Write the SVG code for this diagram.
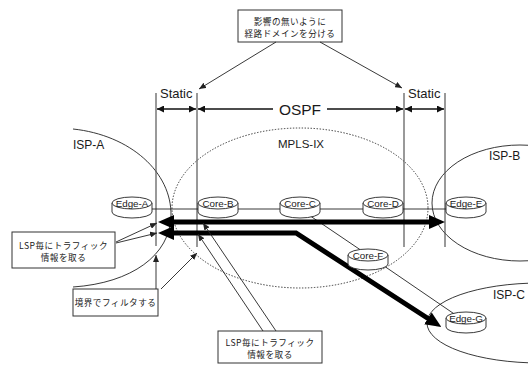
<svg xmlns="http://www.w3.org/2000/svg" xmlns:xlink="http://www.w3.org/1999/xlink" width="528" height="365" viewBox="0 0 528 365">
  <style>
    .lbl { font-family: "Liberation Sans", Arial, sans-serif; fill: #1a1a1a; }
    .jp { font-family: "Noto Sans CJK JP", sans-serif; font-size: 8.6px; letter-spacing: 0.5px; fill: #1a1a1a; text-anchor: middle; }
    .node-text { font-family: "Liberation Sans", Arial, sans-serif; font-size: 9.8px; fill: #1a1a1a; text-anchor: middle; }
    .box { fill: #fff; stroke: #333; stroke-width: 1; }
    .thin { fill: none; stroke: #222; stroke-width: 0.9; }
    .bound { fill: none; stroke: #555; stroke-width: 1.2; }
    .span { fill: none; stroke: #111; stroke-width: 1.6; }
    .thick { fill: none; stroke: #000; stroke-width: 5; }
    .cyl { fill: #fff; stroke: #222; stroke-width: 0.9; }
    .region { fill: none; stroke: #222; stroke-width: 0.9; }
  </style>
  <defs>
    <marker id="arrSm" markerUnits="userSpaceOnUse" markerWidth="8" markerHeight="6" refX="7" refY="3" orient="auto">
      <path d="M0,0 L7,3 L0,6 z" fill="#222"/>
    </marker>
    <marker id="arrSpan" markerUnits="userSpaceOnUse" markerWidth="8" markerHeight="7" refX="7" refY="3.5" orient="auto-start-reverse">
      <path d="M0,0 L7,3.5 L0,7 z" fill="#111"/>
    </marker>
    <marker id="arrBig" markerUnits="userSpaceOnUse" markerWidth="16" markerHeight="14" refX="2" refY="7" orient="auto-start-reverse">
      <path d="M0,0 L16,7 L0,14 z" fill="#000"/>
    </marker>
    <!-- router drum: white body with a top face -->
    <g id="cylinder">
      <path class="cyl" d="M-20,0 V9 A20,6 0 0 0 20,9 V0 Z"/>
      <ellipse class="cyl" cx="0" cy="0" rx="20" ry="6"/>
    </g>
  </defs>

  <!-- administrative regions -->
  <g id="regions">
    <path class="region" d="M73,129 C130,135 172,172 171,216 C170,255 132,283 73,287"/>
    <ellipse class="region" cx="300" cy="208" rx="128" ry="80" stroke-dasharray="1.4 1.6"/>
    <ellipse class="region" cx="520" cy="203" rx="88" ry="58"/>
    <ellipse class="region" cx="540" cy="323" rx="113" ry="40"/>
    <text class="lbl" x="73" y="149" font-size="12">ISP-A</text>
    <text class="lbl" x="278" y="148" font-size="11.5">MPLS-IX</text>
    <text class="lbl" x="489" y="160" font-size="12">ISP-B</text>
    <text class="lbl" x="493" y="299" font-size="12">ISP-C</text>
  </g>

  <!-- routing domain boundaries -->
  <g id="boundaries">
    <line class="bound" x1="156" y1="93" x2="156" y2="246"/>
    <line class="bound" x1="197" y1="93" x2="197" y2="247"/>
    <line class="bound" x1="404" y1="93" x2="404" y2="247"/>
    <line class="bound" x1="445" y1="93" x2="445" y2="247"/>
    <text class="lbl" x="160" y="98" font-size="13">Static</text>
    <text class="lbl" x="408" y="98" font-size="13">Static</text>
    <text class="lbl" x="300" y="114.5" font-size="15.5" text-anchor="middle">OSPF</text>
    <line class="span" x1="157" y1="109" x2="196" y2="109" marker-start="url(#arrSpan)" marker-end="url(#arrSpan)"/>
    <line class="span" x1="198" y1="109" x2="273" y2="109" marker-start="url(#arrSpan)"/>
    <line class="span" x1="327" y1="109" x2="403" y2="109" marker-end="url(#arrSpan)"/>
    <line class="span" x1="405" y1="109" x2="444" y2="109" marker-start="url(#arrSpan)" marker-end="url(#arrSpan)"/>
  </g>

  <!-- links and LSPs -->
  <g id="connectors">
    <line class="thin" x1="132" y1="209" x2="466" y2="209"/>
    <line class="thin" x1="300" y1="209" x2="368" y2="255"/>
    <line class="thin" x1="368" y1="255" x2="466" y2="322"/>
    <path class="thick" d="M172,222 H431" marker-start="url(#arrBig)" marker-end="url(#arrBig)"/>
    <path class="thick" d="M172,233 H296 L429.6,319.5" marker-start="url(#arrBig)" marker-end="url(#arrBig)"/>
  </g>

  <g id="edge-a" transform="translate(132,203)">
    <use href="#cylinder"/>
    <text class="node-text" x="0" y="3.5">Edge-A</text>
  </g>
  <g id="core-b" transform="translate(218,203)">
    <use href="#cylinder"/>
    <text class="node-text" x="0" y="3.5">Core-B</text>
  </g>
  <g id="core-c" transform="translate(300,203)">
    <use href="#cylinder"/>
    <text class="node-text" x="0" y="3.5">Core-C</text>
  </g>
  <g id="core-d" transform="translate(383,203)">
    <use href="#cylinder"/>
    <text class="node-text" x="0" y="3.5">Core-D</text>
  </g>
  <g id="edge-e" transform="translate(466,203)">
    <use href="#cylinder"/>
    <text class="node-text" x="0" y="3.5">Edge-E</text>
  </g>
  <g id="core-f" transform="translate(368,255)">
    <use href="#cylinder"/>
    <text class="node-text" x="0" y="3.5">Core-F</text>
  </g>
  <g id="edge-g" transform="translate(466,318)">
    <use href="#cylinder"/>
    <text class="node-text" x="0" y="3.5">Edge-G</text>
  </g>

  <!-- notes -->
  <g id="note-domain">
    <rect class="box" x="238" y="10" width="104" height="32"/>
    <text class="jp" x="290" y="24.5">影響の無いように</text>
    <text class="jp" x="290" y="37">経路ドメインを分ける</text>
    <line class="thin" x1="276" y1="42" x2="199" y2="89" marker-end="url(#arrSm)"/>
    <line class="thin" x1="320" y1="42" x2="402" y2="88" marker-end="url(#arrSm)"/>
  </g>
  <g id="note-lsp-edge">
    <rect class="box" x="12" y="232" width="103" height="36"/>
    <text class="jp" x="63.5" y="248.5">LSP毎にトラフィック</text>
    <text class="jp" x="63.5" y="261">情報を取る</text>
    <line class="thin" x1="116" y1="242" x2="157" y2="223" marker-end="url(#arrSm)"/>
    <line class="thin" x1="116" y1="243" x2="157" y2="233" marker-end="url(#arrSm)"/>
  </g>
  <g id="note-filter">
    <rect class="box" x="73" y="289" width="85" height="27"/>
    <text class="jp" x="115.5" y="306">境界でフィルタする</text>
    <line class="thin" x1="156" y1="289" x2="156" y2="255" marker-end="url(#arrSm)"/>
    <line class="thin" x1="161" y1="289" x2="197" y2="253" marker-end="url(#arrSm)"/>
  </g>
  <g id="note-lsp-core">
    <rect class="box" x="218" y="331" width="104" height="32"/>
    <text class="jp" x="270" y="345.5">LSP毎にトラフィック</text>
    <text class="jp" x="270" y="358">情報を取る</text>
    <line class="thin" x1="263" y1="331" x2="198" y2="234" marker-end="url(#arrSm)"/>
    <line class="thin" x1="276" y1="331" x2="203" y2="223" marker-end="url(#arrSm)"/>
  </g>
</svg>
